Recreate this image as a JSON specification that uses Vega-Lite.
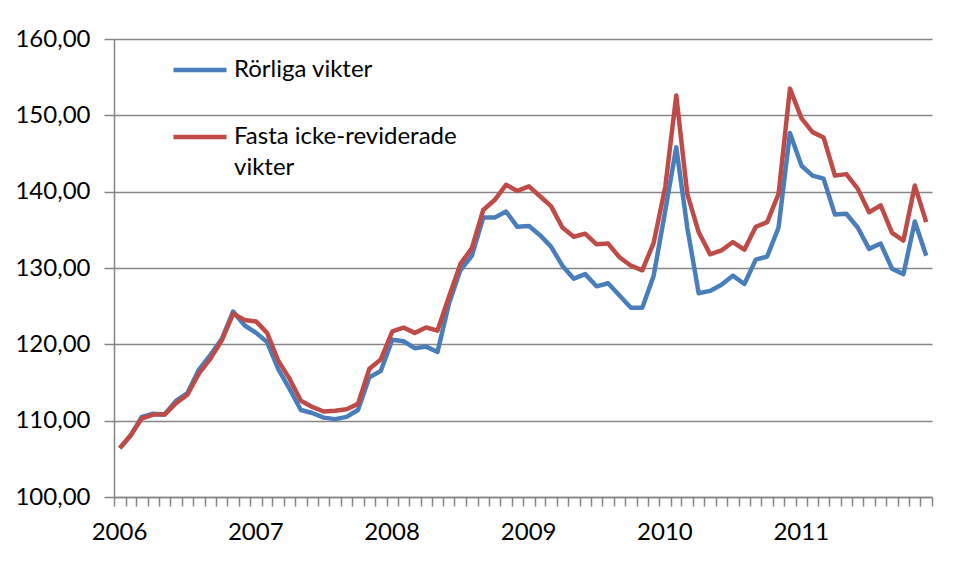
{
  "$schema": "https://vega.github.io/schema/vega-lite/v6.json",
  "autosize": {"type": "none"},
  "padding": {"left": 114, "top": 39, "right": 38, "bottom": 79},
  "width": 818,
  "height": 458,
  "background": "white",
  "config": {
    "font": "Lato",
    "view": {"stroke": null},
    "axis": {"labelFont": "Lato", "labelFontSize": 24, "labelColor": "#000000", "domainColor": "#868686", "tickColor": "#868686", "domainWidth": 1.5, "tickWidth": 1.5}
  },
  "data": {
    "values": [
      {"date": "2006-01-01", "Rörliga vikter": 106.4, "Fasta icke-reviderade vikter": 106.4},
      {"date": "2006-02-01", "Rörliga vikter": 108.1, "Fasta icke-reviderade vikter": 108.1},
      {"date": "2006-03-01", "Rörliga vikter": 110.5, "Fasta icke-reviderade vikter": 110.3},
      {"date": "2006-04-01", "Rörliga vikter": 110.9, "Fasta icke-reviderade vikter": 110.8},
      {"date": "2006-05-01", "Rörliga vikter": 110.8, "Fasta icke-reviderade vikter": 110.8},
      {"date": "2006-06-01", "Rörliga vikter": 112.6, "Fasta icke-reviderade vikter": 112.3},
      {"date": "2006-07-01", "Rörliga vikter": 113.6, "Fasta icke-reviderade vikter": 113.4},
      {"date": "2006-08-01", "Rörliga vikter": 116.7, "Fasta icke-reviderade vikter": 116.2},
      {"date": "2006-09-01", "Rörliga vikter": 118.6, "Fasta icke-reviderade vikter": 118.1},
      {"date": "2006-10-01", "Rörliga vikter": 120.7, "Fasta icke-reviderade vikter": 120.5},
      {"date": "2006-11-01", "Rörliga vikter": 124.3, "Fasta icke-reviderade vikter": 124.0},
      {"date": "2006-12-01", "Rörliga vikter": 122.5, "Fasta icke-reviderade vikter": 123.2},
      {"date": "2007-01-01", "Rörliga vikter": 121.5, "Fasta icke-reviderade vikter": 123.0},
      {"date": "2007-02-01", "Rörliga vikter": 120.3, "Fasta icke-reviderade vikter": 121.5},
      {"date": "2007-03-01", "Rörliga vikter": 116.8, "Fasta icke-reviderade vikter": 117.9},
      {"date": "2007-04-01", "Rörliga vikter": 114.2, "Fasta icke-reviderade vikter": 115.5},
      {"date": "2007-05-01", "Rörliga vikter": 111.4, "Fasta icke-reviderade vikter": 112.6},
      {"date": "2007-06-01", "Rörliga vikter": 111.0, "Fasta icke-reviderade vikter": 111.8},
      {"date": "2007-07-01", "Rörliga vikter": 110.4, "Fasta icke-reviderade vikter": 111.2},
      {"date": "2007-08-01", "Rörliga vikter": 110.2, "Fasta icke-reviderade vikter": 111.3},
      {"date": "2007-09-01", "Rörliga vikter": 110.5, "Fasta icke-reviderade vikter": 111.5},
      {"date": "2007-10-01", "Rörliga vikter": 111.4, "Fasta icke-reviderade vikter": 112.2},
      {"date": "2007-11-01", "Rörliga vikter": 115.7, "Fasta icke-reviderade vikter": 116.8},
      {"date": "2007-12-01", "Rörliga vikter": 116.5, "Fasta icke-reviderade vikter": 118.0},
      {"date": "2008-01-01", "Rörliga vikter": 120.6, "Fasta icke-reviderade vikter": 121.7},
      {"date": "2008-02-01", "Rörliga vikter": 120.4, "Fasta icke-reviderade vikter": 122.2},
      {"date": "2008-03-01", "Rörliga vikter": 119.5, "Fasta icke-reviderade vikter": 121.5},
      {"date": "2008-04-01", "Rörliga vikter": 119.7, "Fasta icke-reviderade vikter": 122.2},
      {"date": "2008-05-01", "Rörliga vikter": 119.0, "Fasta icke-reviderade vikter": 121.8},
      {"date": "2008-06-01", "Rörliga vikter": 125.3, "Fasta icke-reviderade vikter": 126.2},
      {"date": "2008-07-01", "Rörliga vikter": 129.7, "Fasta icke-reviderade vikter": 130.5},
      {"date": "2008-08-01", "Rörliga vikter": 131.6, "Fasta icke-reviderade vikter": 132.6},
      {"date": "2008-09-01", "Rörliga vikter": 136.6, "Fasta icke-reviderade vikter": 137.6},
      {"date": "2008-10-01", "Rörliga vikter": 136.6, "Fasta icke-reviderade vikter": 138.9},
      {"date": "2008-11-01", "Rörliga vikter": 137.4, "Fasta icke-reviderade vikter": 140.9},
      {"date": "2008-12-01", "Rörliga vikter": 135.4, "Fasta icke-reviderade vikter": 140.1},
      {"date": "2009-01-01", "Rörliga vikter": 135.5, "Fasta icke-reviderade vikter": 140.7},
      {"date": "2009-02-01", "Rörliga vikter": 134.3, "Fasta icke-reviderade vikter": 139.4},
      {"date": "2009-03-01", "Rörliga vikter": 132.8, "Fasta icke-reviderade vikter": 138.1},
      {"date": "2009-04-01", "Rörliga vikter": 130.3, "Fasta icke-reviderade vikter": 135.3},
      {"date": "2009-05-01", "Rörliga vikter": 128.6, "Fasta icke-reviderade vikter": 134.1},
      {"date": "2009-06-01", "Rörliga vikter": 129.2, "Fasta icke-reviderade vikter": 134.5},
      {"date": "2009-07-01", "Rörliga vikter": 127.6, "Fasta icke-reviderade vikter": 133.1},
      {"date": "2009-08-01", "Rörliga vikter": 128.0, "Fasta icke-reviderade vikter": 133.2},
      {"date": "2009-09-01", "Rörliga vikter": 126.4, "Fasta icke-reviderade vikter": 131.4},
      {"date": "2009-10-01", "Rörliga vikter": 124.8, "Fasta icke-reviderade vikter": 130.3},
      {"date": "2009-11-01", "Rörliga vikter": 124.8, "Fasta icke-reviderade vikter": 129.7},
      {"date": "2009-12-01", "Rörliga vikter": 129.0, "Fasta icke-reviderade vikter": 133.3},
      {"date": "2010-01-01", "Rörliga vikter": 137.5, "Fasta icke-reviderade vikter": 140.6},
      {"date": "2010-02-01", "Rörliga vikter": 145.8, "Fasta icke-reviderade vikter": 152.6},
      {"date": "2010-03-01", "Rörliga vikter": 135.3, "Fasta icke-reviderade vikter": 139.7},
      {"date": "2010-04-01", "Rörliga vikter": 126.7, "Fasta icke-reviderade vikter": 134.7},
      {"date": "2010-05-01", "Rörliga vikter": 127.0, "Fasta icke-reviderade vikter": 131.8},
      {"date": "2010-06-01", "Rörliga vikter": 127.8, "Fasta icke-reviderade vikter": 132.3},
      {"date": "2010-07-01", "Rörliga vikter": 129.0, "Fasta icke-reviderade vikter": 133.4},
      {"date": "2010-08-01", "Rörliga vikter": 127.9, "Fasta icke-reviderade vikter": 132.4},
      {"date": "2010-09-01", "Rörliga vikter": 131.1, "Fasta icke-reviderade vikter": 135.4},
      {"date": "2010-10-01", "Rörliga vikter": 131.5, "Fasta icke-reviderade vikter": 136.0},
      {"date": "2010-11-01", "Rörliga vikter": 135.3, "Fasta icke-reviderade vikter": 139.7},
      {"date": "2010-12-01", "Rörliga vikter": 147.7, "Fasta icke-reviderade vikter": 153.5},
      {"date": "2011-01-01", "Rörliga vikter": 143.4, "Fasta icke-reviderade vikter": 149.6},
      {"date": "2011-02-01", "Rörliga vikter": 142.1, "Fasta icke-reviderade vikter": 147.8},
      {"date": "2011-03-01", "Rörliga vikter": 141.7, "Fasta icke-reviderade vikter": 147.1},
      {"date": "2011-04-01", "Rörliga vikter": 137.0, "Fasta icke-reviderade vikter": 142.1},
      {"date": "2011-05-01", "Rörliga vikter": 137.1, "Fasta icke-reviderade vikter": 142.3},
      {"date": "2011-06-01", "Rörliga vikter": 135.3, "Fasta icke-reviderade vikter": 140.4},
      {"date": "2011-07-01", "Rörliga vikter": 132.5, "Fasta icke-reviderade vikter": 137.3},
      {"date": "2011-08-01", "Rörliga vikter": 133.2, "Fasta icke-reviderade vikter": 138.2},
      {"date": "2011-09-01", "Rörliga vikter": 129.9, "Fasta icke-reviderade vikter": 134.6},
      {"date": "2011-10-01", "Rörliga vikter": 129.2, "Fasta icke-reviderade vikter": 133.6},
      {"date": "2011-11-01", "Rörliga vikter": 136.1, "Fasta icke-reviderade vikter": 140.8},
      {"date": "2011-12-01", "Rörliga vikter": 131.6, "Fasta icke-reviderade vikter": 136.0}
    ]
  },
  "transform": [
    {"fold": ["Rörliga vikter", "Fasta icke-reviderade vikter"], "as": ["serie", "varde"]}
  ],
  "mark": {"type": "line", "strokeWidth": 4.5, "strokeJoin": "round"},
  "encoding": {
    "x": {
      "field": "date",
      "type": "temporal",
      "timeUnit": "utcyearmonth",
      "bandPosition": 0.5,
      "scale": {"type": "utc", "domain": [{"year": 2006, "month": 1, "date": 1, "utc": true}, {"year": 2012, "month": 1, "date": 1, "utc": true}], "nice": false},
      "axis": {
        "title": null,
        "grid": false,
        "tickCount": {"interval": "month", "step": 1},
        "tickSize": 9,
        "labelExpr": "utcmonth(datum.value) == 0 && utcyear(datum.value) < 2012 ? utcFormat(datum.value, '%Y') : ''",
        "labelOffset": 5,
        "labelPadding": 14,
        "labelOverlap": false,
        "labelFlush": false
      }
    },
    "y": {
      "field": "varde",
      "type": "quantitative",
      "scale": {"domain": [100, 160], "nice": false, "zero": false},
      "axis": {
        "title": null,
        "values": [100, 110, 120, 130, 140, 150, 160],
        "labelExpr": "replace(format(datum.value, '.2f'), '.', ',')",
        "grid": true,
        "gridColor": "#868686",
        "gridWidth": 1.5,
        "tickSize": 10,
        "labelPadding": 14
      }
    },
    "color": {
      "field": "serie",
      "type": "nominal",
      "scale": {"domain": ["Rörliga vikter", "Fasta icke-reviderade vikter"], "range": ["#4A7EBB", "#BE4B48"]},
      "legend": {
        "title": null,
        "orient": "none",
        "legendX": 57,
        "legendY": 2,
        "symbolType": "stroke",
        "symbolSize": 2809,
        "symbolStrokeWidth": 4.5,
        "labelFont": "Lato",
        "labelFontSize": 24,
        "labelColor": "#000000",
        "labelLimit": 500,
        "labelOffset": 5,
        "rowPadding": 26,
        "labelExpr": "datum.label == 'Fasta icke-reviderade vikter' ? ['Fasta icke-reviderade', 'vikter'] : datum.label",
        "encode": {"labels": {"update": {"lineHeight": {"value": 31}}}}
      }
    }
  }
}
